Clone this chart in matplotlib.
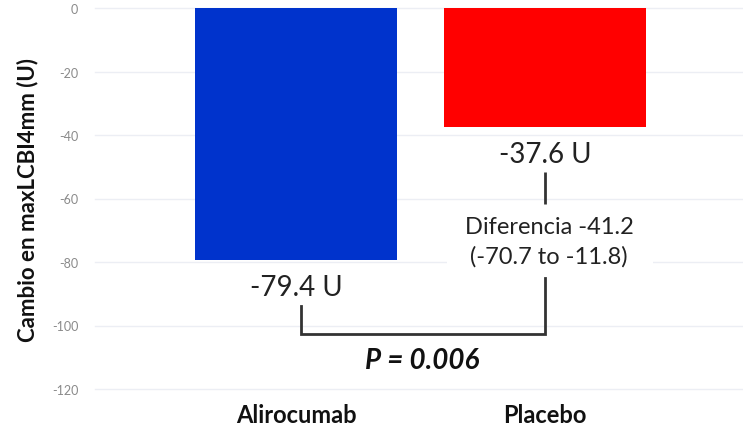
import matplotlib
matplotlib.use("Agg")
import matplotlib.pyplot as plt
from matplotlib.patches import Rectangle

# Data
categories = ["Alirocumab", "Placebo"]
changes = [-79.4, -37.6]
bar_colors = ["#0033cc", "#ff0000"]
y_ticks = [0, -20, -40, -60, -80, -100, -120]
diff_value = -41.2
diff_ci = (-70.7, -11.8)
p_value = "0.006"

FONT = "Lato"
plt.rcParams["font.family"] = [FONT, "DejaVu Sans"]

fig = plt.figure(figsize=(7.43, 4.35), dpi=100)
ax = fig.add_axes([95 / 743, 45 / 435, 648 / 743, 381 / 435])

x = list(range(len(categories)))
ax.bar(x, changes, width=0.81, color=bar_colors, zorder=2)

ax.set_xlim(-0.807, 1.795)
ax.set_ylim(-120, 0)

# light horizontal grid
for t in y_ticks:
    ax.axhline(t, color="#eceef4", lw=1.0, zorder=0, clip_on=False)

ax.set_yticks(y_ticks)
ax.set_yticklabels([str(t) for t in y_ticks], fontsize=9, color="#8a8a8a")
ax.set_xticks(x)
ax.set_xticklabels(categories, fontsize=17, fontweight="bold", color="#111111")
ax.tick_params(axis="both", length=0)
ax.tick_params(axis="x", pad=10)
ax.tick_params(axis="y", pad=12)
for s in ax.spines.values():
    s.set_visible(False)

ax.set_ylabel("Cambio en maxLCBI4mm (U)", fontsize=16, fontweight="bold",
              color="#111111", labelpad=10)

# value labels under each bar
ax.text(x[0], changes[0] - 8.5, f"{changes[0]:.1f} U", ha="center", va="center",
        fontsize=20, color="#222222", zorder=4)
ax.text(x[1], changes[1] - 8.4, f"{changes[1]:.1f} U", ha="center", va="center",
        fontsize=20, color="#222222", zorder=4)

# white panel behind the difference annotation
ax.add_patch(Rectangle((0.606, -84.0), 0.828, 21.5, facecolor="white",
                       edgecolor="none", zorder=1))
ax.text(1.016, -68.7, f"Diferencia {diff_value:.1f}", ha="center", va="center",
        fontsize=17, color="#222222", zorder=4)
ax.text(1.016, -78.2, f"({diff_ci[0]:.1f} to {diff_ci[1]:.1f})", ha="center",
        va="center", fontsize=17, color="#222222", zorder=4)

# bracket connecting the two groups
lc = "#333333"
lw = 2.0
xl, xr = 0.019, 1.0
ax.plot([xr, xr], [-51.7, -61.7], color=lc, lw=lw, zorder=3, solid_capstyle="butt")
ax.plot([xr, xr, xl, xl], [-85.0, -102.7, -102.7, -93.9], color=lc, lw=lw,
        zorder=3, solid_joinstyle="miter")

ax.text(0.506, -110.9, f"P = {p_value}", ha="center", va="center", fontsize=20,
        fontweight="bold", fontstyle="italic", color="#111111", zorder=4)

fig.savefig("out.png", dpi=100)
